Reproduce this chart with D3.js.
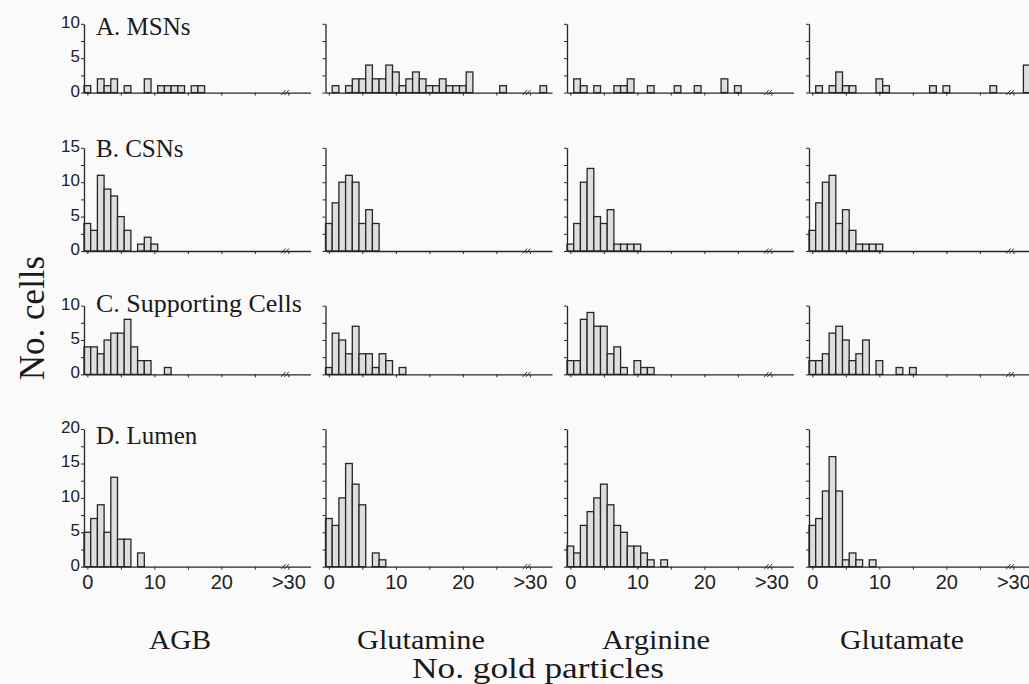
<!DOCTYPE html>
<html>
<head>
<meta charset="utf-8">
<script src="https://cdn.jsdelivr.net/npm/d3@7"></script>
<style>
  html, body { margin: 0; padding: 0; background: #fafafa; }
  svg { display: block; }
</style>
</head>
<body>
<svg id="chart" width="1029" height="684"></svg>
<script>
// ---------- data ----------
const categories = ["AGB", "Glutamine", "Arginine", "Glutamate"];
const rowLabels = ["A. MSNs", "B. CSNs", "C. Supporting Cells", "D. Lumen"];
const rowMax = [10, 15, 10, 20];
const xTickValues = [0, 10, 20, 30];
const xTickLabels = ["0", "10", "20", ">30"];
const yLabelStep = 5;

// counts per bin (bin index = number of gold particles, 0..)
const msnAGB = [1,0,2,1,2,0,1,0,0,2,0,1,1,1,1,0,1,1];
const msnGlutamine = [0,1,0,1,2,2,4,2,2,4,3,1,2,3,2,1,1,2,1,1,1,3,0,0,0,0,1];
const msnArginine = [0,2,1,0,1,0,0,1,1,2,0,0,1,0,0,0,1,0,0,1,0,0,0,2,0,1];
const msnGlutamate = [0,1,0,1,3,1,1,0,0,0,2,1,0,0,0,0,0,0,1,0,1,0,0,0,0,0,0,1];
const msnOver30 = [0, 1, 0, 4];

const csnAGB = [4,3,11,9,8,5,3,0,1,2,1];
const csnGlutamine = [4,7,10,11,10,4,6,4];
const csnArginine = [1,4,10,12,5,4,6,1,1,1,1];
const csnGlutamate = [3,7,10,11,4,6,3,1,1,1,1];
const csnOver30 = [0, 0, 0, 0];

const supAGB = [4,4,3,5,6,6,8,4,2,2,0,0,1];
const supGlutamine = [1,6,5,3,7,3,3,1,3,2,0,1];
const supArginine = [2,2,8,9,7,7,3,4,1,0,2,1,1];
const supGlutamate = [2,2,3,6,7,5,2,3,5,0,2,0,0,1,0,1];
const supOver30 = [0, 0, 0, 0];

const lumAGB = [5,7,9,5,13,4,4,0,2];
const lumGlutamine = [7,6,10,15,12,9,0,2,1];
const lumArginine = [3,2,6,8,10,12,9,6,5,3,3,2,1,0,1];
const lumGlutamate = [6,7,11,16,11,1,2,1,0,1];
const lumOver30 = [0, 0, 0, 0];

const panels = [
  [msnAGB, msnGlutamine, msnArginine, msnGlutamate],
  [csnAGB, csnGlutamine, csnArginine, csnGlutamate],
  [supAGB, supGlutamine, supArginine, supGlutamate],
  [lumAGB, lumGlutamine, lumArginine, lumGlutamate]
];
const over30 = [msnOver30, csnOver30, supOver30, lumOver30];
const OVER_POS = 32;      // where the ">30" bin is drawn on the x scale
const BREAK_POS = 29.5;   // axis break mark

// ---------- layout ----------
const colAxisX = [84, 325.5, 567, 809];
const rowBaseY = [92.6, 251, 374.4, 566.7];
const unitX = 6.7;
const unitY = 6.88;
const xDomain = [-0.5, 33.3];

const svg = d3.select("#chart");
const ink = "#262626";
const sans = "'Liberation Sans', Arial, Helvetica, sans-serif";
const serif = "'Liberation Serif', 'Times New Roman', Times, serif";

rowLabels.forEach((rl, r) => {
  const y = d3.scaleLinear()
    .domain([0, rowMax[r]])
    .range([rowBaseY[r], rowBaseY[r] - rowMax[r] * unitY]);

  categories.forEach((cat, c) => {
    const x0 = colAxisX[c];
    const x = d3.scaleLinear()
      .domain(xDomain)
      .range([x0, x0 + (xDomain[1] - xDomain[0]) * unitX]);

    const g = svg.append("g");

    // bars
    const bins = panels[r][c]
      .map((v, i) => ({ pos: i, v: v }))
      .filter(d => d.v > 0);
    if (over30[r][c] > 0) bins.push({ pos: OVER_POS, v: over30[r][c] });

    g.selectAll("rect.bar").data(bins).enter().append("rect")
      .attr("class", "bar")
      .attr("x", d => x(d.pos - 0.5))
      .attr("width", d => x(d.pos + 0.5) - x(d.pos - 0.5))
      .attr("y", d => y(d.v))
      .attr("height", d => y(0) - y(d.v))
      .attr("fill", "#dedede")
      .attr("stroke", ink)
      .attr("stroke-width", 1.3);

    // x axis
    const xAxis = d3.axisBottom(x)
      .tickValues([0, 5, 10, 15, 20, 25, 30])
      .tickSize(3)
      .tickSizeOuter(0)
      .tickPadding(5)
      .tickFormat(d => {
        if (r !== rowLabels.length - 1) return "";
        const k = xTickValues.indexOf(d);
        return k >= 0 ? xTickLabels[k] : "";
      });
    const gx = g.append("g")
      .attr("transform", `translate(0,${rowBaseY[r]})`)
      .call(xAxis);
    gx.select(".domain").attr("stroke", ink).attr("stroke-width", 1.3);
    gx.selectAll(".tick line").attr("stroke", ink).attr("stroke-width", 1);
    gx.selectAll(".tick text")
      .attr("fill", "#222")
      .style("font-family", sans)
      .style("font-size", "20px");

    // axis break mark "//"
    const bx = x(BREAK_POS);
    const by = rowBaseY[r];
    [-1.6, 1.6].forEach(off => {
      g.append("line")
        .attr("x1", bx + off - 2.2).attr("y1", by + 2.5)
        .attr("x2", bx + off + 2.2).attr("y2", by - 2.5)
        .attr("stroke", ink).attr("stroke-width", 1);
    });

    // y axis
    const yAxis = d3.axisLeft(y)
      .tickValues(d3.range(0, rowMax[r] + 0.01, 2.5))
      .tickSize(3)
      .tickSizeOuter(0)
      .tickPadding(1)
      .tickFormat(d => (c === 0 && d % yLabelStep === 0) ? String(d) : "");
    const gy = g.append("g")
      .attr("transform", `translate(${x0},0)`)
      .call(yAxis);
    gy.select(".domain").attr("stroke", ink).attr("stroke-width", 1.3);
    gy.selectAll(".tick line").attr("stroke", ink).attr("stroke-width", 1);
    gy.selectAll(".tick text")
      .attr("fill", "#222")
      .attr("dy", "0.2em")
      .style("font-family", sans)
      .style("font-size", "17px");
  });

  // row label
  const labelBaseline = [35, 157, 311.5, 443.5];
  svg.append("text")
    .attr("x", 96)
    .attr("y", labelBaseline[r])
    .attr("fill", "#1a1a1a")
    .style("font-family", serif)
    .style("font-size", r === 2 ? "26px" : "25px")
    .text(rl);
});

// column titles
const colLabelX = [180, 421, 656, 902];
const colLabelW = [62, 128, 108, 124];
categories.forEach((cat, c) => {
  svg.append("text")
    .attr("x", colLabelX[c])
    .attr("y", 649)
    .attr("text-anchor", "middle")
    .attr("fill", "#1a1a1a")
    .attr("textLength", colLabelW[c])
    .attr("lengthAdjust", "spacingAndGlyphs")
    .style("font-family", serif)
    .style("font-size", "27px")
    .text(cat);
});

// axis titles
svg.append("text")
  .attr("x", 538)
  .attr("y", 678)
  .attr("text-anchor", "middle")
  .attr("fill", "#1a1a1a")
  .attr("textLength", 252)
  .attr("lengthAdjust", "spacingAndGlyphs")
  .style("font-family", serif)
  .style("font-size", "29px")
  .text("No. gold particles");

svg.append("text")
  .attr("transform", "translate(44,318) rotate(-90)")
  .attr("text-anchor", "middle")
  .attr("fill", "#1a1a1a")
  .style("font-family", serif)
  .style("font-size", "35px")
  .text("No. cells");
</script>
</body>
</html>
